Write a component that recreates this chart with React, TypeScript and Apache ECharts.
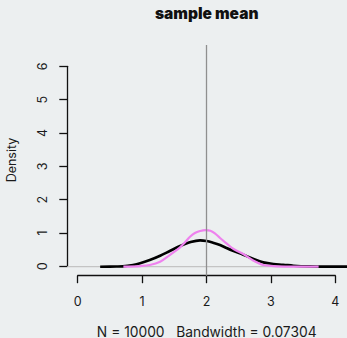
import React, { useEffect, useRef } from "react";
import * as echarts from "echarts";

const blackX = [0.35, 0.6, 0.7, 0.86, 0.97, 1.12, 1.28, 1.43, 1.59, 1.74, 1.9, 2.0, 2.1, 2.21, 2.31, 2.42, 2.57, 2.73, 2.88, 3.04, 3.19, 3.35, 3.6, 3.9, 4.4];
const blackY = [0, 0.005, 0.01, 0.05, 0.1, 0.2, 0.33, 0.47, 0.62, 0.73, 0.79, 0.77, 0.72, 0.65, 0.56, 0.47, 0.36, 0.23, 0.13, 0.08, 0.06, 0.03, 0.01, 0.003, 0];
const pinkX = [0.71, 0.97, 1.12, 1.28, 1.43, 1.59, 1.67, 1.74, 1.82, 1.9, 1.98, 2.06, 2.13, 2.21, 2.31, 2.42, 2.57, 2.73, 2.88, 3.04, 3.3, 3.74];
const pinkY = [0, 0.02, 0.05, 0.15, 0.35, 0.58, 0.74, 0.89, 1.01, 1.07, 1.1, 1.08, 1.0, 0.86, 0.7, 0.53, 0.38, 0.18, 0.05, 0.02, 0.005, 0];
const xTicks = [0, 1, 2, 3, 4];
const yTicks = [0, 1, 2, 3, 4, 5, 6];
const vLineX = 2;
const titleText = "sample mean";
const subText = "N = 10000   Bandwidth = 0.07304";
const yName = "Density";

const FONT = "Inter, 'Noto Sans', sans-serif";

export default function App() {
  const ref = useRef<HTMLDivElement>(null);
  useEffect(() => {
    const chart = echarts.init(ref.current!, null, { renderer: "svg" });
    const xMin = -0.16, xMax = 4.18, yMin = -0.27, yMax = 6.65;
    chart.setOption({
      animation: false,
      backgroundColor: "#eceff0",
      grid: [
        { left: 67.3, right: 0, top: 45, bottom: 62.3 },
        { left: 77.7, width: 257.6, top: 200, bottom: 62.3 },
        { left: 67.3, width: 10, top: 66.3, height: 200 },
      ],
      xAxis: [
        { type: "value", gridIndex: 0, min: xMin, max: xMax, show: false },
        {
          type: "value", gridIndex: 1, min: xTicks[0], max: xTicks[xTicks.length - 1], interval: 1,
          axisLine: { show: true, lineStyle: { color: "#111", width: 1.3 } },
          axisTick: { show: true, length: 7.5, lineStyle: { color: "#111", width: 1.3 } },
          axisLabel: { margin: 19, color: "#1a1a1a", fontSize: 12.5, fontFamily: FONT },
          splitLine: { show: false },
        },
        { type: "value", gridIndex: 2, show: false, min: 0, max: 1 },
      ],
      yAxis: [
        { type: "value", gridIndex: 0, min: yMin, max: yMax, show: false },
        { type: "value", gridIndex: 1, show: false, min: 0, max: 1 },
        {
          type: "value", gridIndex: 2, min: yTicks[0], max: yTicks[yTicks.length - 1], interval: 1,
          axisLine: { show: true, lineStyle: { color: "#111", width: 1.3 } },
          axisTick: { show: true, length: 8, lineStyle: { color: "#111", width: 1.3 } },
          axisLabel: { margin: 18, rotate: 90, color: "#1a1a1a", fontSize: 12.5, fontFamily: FONT },
          splitLine: { show: false },
        },
      ],
      series: [
        {
          type: "line", xAxisIndex: 0, yAxisIndex: 0, showSymbol: false, silent: true,
          data: [[xMin, 0], [xMax, 0]],
          lineStyle: { color: "#c4c4c4", width: 1.2 },
        },
        {
          type: "line", xAxisIndex: 0, yAxisIndex: 0, showSymbol: false, silent: true,
          data: blackX.map((x, i) => [x, blackY[i]]),
          smooth: 0.35,
          lineStyle: { color: "#000", width: 2.6 },
        },
        {
          type: "line", xAxisIndex: 0, yAxisIndex: 0, showSymbol: false, silent: true,
          data: pinkX.map((x, i) => [x, pinkY[i]]),
          smooth: 0.35,
          lineStyle: { color: "#ee82ee", width: 2.2 },
        },
        {
          type: "line", xAxisIndex: 0, yAxisIndex: 0, showSymbol: false, silent: true,
          data: [[vLineX, yMin], [vLineX, yMax]],
          lineStyle: { color: "#8f8f8f", width: 1.3 },
        },
      ],
      graphic: [
        {
          type: "text", x: 206.7, y: 13.5,
          style: { text: titleText, textAlign: "center", textVerticalAlign: "middle", font: `900 15.5px ${FONT}`, fill: "#111" },
        },
        {
          type: "text", x: 206.7, y: 331.5,
          style: { text: subText, textAlign: "center", textVerticalAlign: "middle", font: `13.8px ${FONT}`, fill: "#1a1a1a" },
        },
        {
          type: "text", x: 11, y: 160, rotation: Math.PI / 2,
          style: { text: yName, textAlign: "center", textVerticalAlign: "middle", font: `12.5px ${FONT}`, fill: "#1a1a1a" },
        },
      ],
    });
    return () => chart.dispose();
  }, []);
  return <div ref={ref} style={{ width: 347, height: 338, position: "absolute", left: 0, top: 0 }} />;
}
